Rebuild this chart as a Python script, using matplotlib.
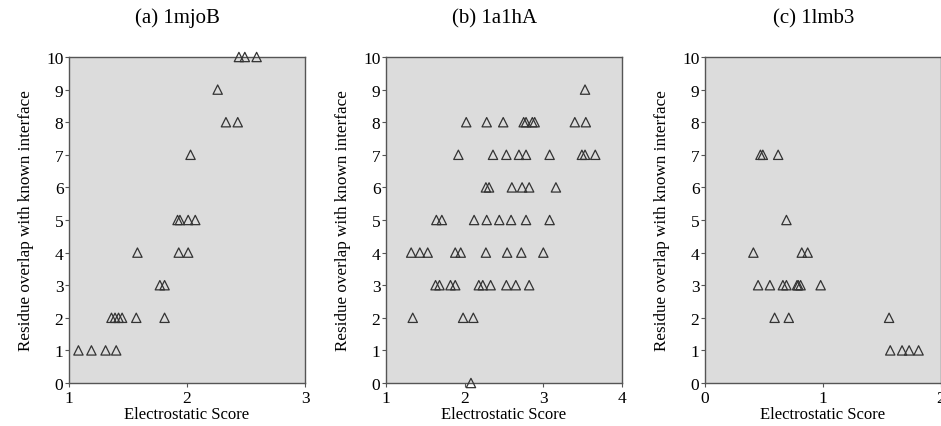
import matplotlib.pyplot as plt

plt.rcParams['font.family'] = ['Liberation Serif', 'DejaVu Serif']

# (a) 1mjoB
a_x = [1.08, 1.19, 1.31, 1.40,
       1.36, 1.39, 1.42, 1.45, 1.57, 1.81,
       1.77, 1.81,
       1.58, 1.93, 2.01,
       1.92, 1.94, 2.01, 2.07,
       2.03,
       2.33, 2.43,
       2.26,
       2.44, 2.49, 2.59]
a_y = [1, 1, 1, 1,
       2, 2, 2, 2, 2, 2,
       3, 3,
       4, 4, 4,
       5, 5, 5, 5,
       7,
       8, 8,
       9,
       10, 10, 10]

# (b) 1a1hA
b_x = [2.08,
       1.34, 1.98, 2.11,
       1.63, 1.68, 1.82, 1.88, 2.18, 2.23, 2.33, 2.53, 2.65, 2.82,
       1.32, 1.43, 1.53, 1.88, 1.95, 2.27, 2.54, 2.72, 3.00,
       1.64, 1.71, 2.12, 2.28, 2.44, 2.59, 2.78, 3.08,
       2.27, 2.31, 2.60, 2.73, 2.82, 3.16,
       1.92, 2.36, 2.53, 2.69, 2.78, 3.08, 3.49, 3.53, 3.66,
       2.02, 2.28, 2.49, 2.75, 2.78, 2.86, 2.89, 3.40, 3.54,
       3.53]
b_y = [0,
       2, 2, 2,
       3, 3, 3, 3, 3, 3, 3, 3, 3, 3,
       4, 4, 4, 4, 4, 4, 4, 4, 4,
       5, 5, 5, 5, 5, 5, 5, 5,
       6, 6, 6, 6, 6, 6,
       7, 7, 7, 7, 7, 7, 7, 7, 7,
       8, 8, 8, 8, 8, 8, 8, 8, 8,
       9]

# (c) 1lmb3
c_x = [1.57, 1.67, 1.73, 1.81,
       0.59, 0.71, 1.56,
       0.45, 0.55, 0.66, 0.69, 0.78, 0.79, 0.81, 0.98,
       0.41, 0.82, 0.87,
       0.69,
       0.47, 0.49, 0.62]
c_y = [1, 1, 1, 1,
       2, 2, 2,
       3, 3, 3, 3, 3, 3, 3, 3,
       4, 4, 4,
       5,
       7, 7, 7]

panels = [
    ('(a) 1mjoB', a_x, a_y, (1, 3), [1, 2, 3], 69),
    ('(b) 1a1hA', b_x, b_y, (1, 4), [1, 2, 3, 4], 386),
    ('(c) 1lmb3', c_x, c_y, (0, 2), [0, 1, 2], 705),
]

W, H = 941, 427
fig = plt.figure(figsize=(W / 100, H / 100), dpi=100)

for title, xs, ys, xlim, xticks, left in panels:
    ax = fig.add_axes([left / W, 1 - 384 / H, 236 / W, 326 / H])
    ax.set_facecolor('#dcdcdc')
    ax.scatter(xs, ys, marker='^', s=45, facecolors='none',
               edgecolors='#333333', linewidths=0.9, clip_on=False, zorder=3)
    ax.set_xlim(*xlim)
    ax.set_ylim(0, 10)
    ax.set_xticks(xticks)
    ax.set_yticks(range(11))
    ax.tick_params(labelsize=12.5, length=3, width=0.8, color='#555555', pad=1)
    ax.tick_params(axis='x', pad=2)
    for s in ax.spines.values():
        s.set_color('#555555')
        s.set_linewidth(1.0)
    ax.set_xlabel('Electrostatic Score', fontsize=12, labelpad=0)
    ax.set_ylabel('Residue overlap with known interface', fontsize=12.3, labelpad=9)
    ax.set_title(title, fontsize=15, pad=25, x=0.46)

fig.savefig('out.png', dpi=100)
